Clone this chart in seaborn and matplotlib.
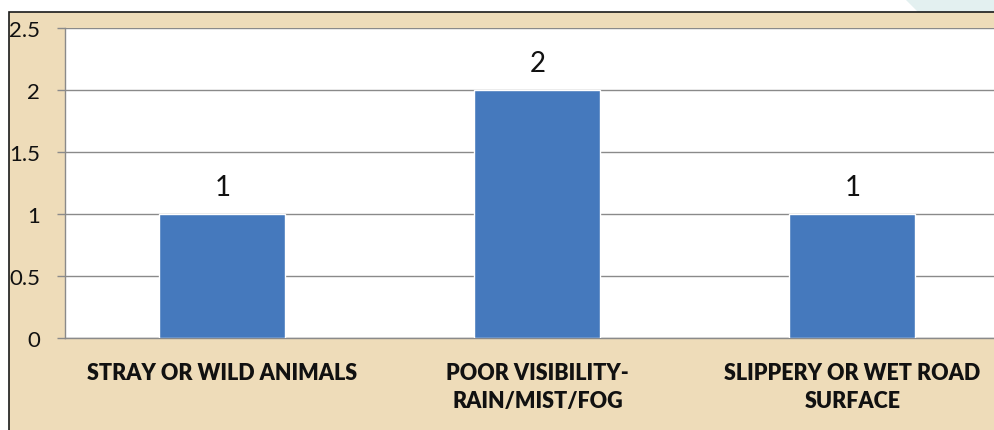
import matplotlib
matplotlib.use("Agg")
import matplotlib.pyplot as plt
import seaborn as sns
import pandas as pd
from matplotlib.patches import Rectangle, Polygon

# chart values
categories = ["STRAY OR WILD ANIMALS", "POOR VISIBILITY-\nRAIN/MIST/FOG", "SLIPPERY OR WET ROAD\nSURFACE"]
counts = [1, 2, 1]
y_ticks = [0, 0.5, 1, 1.5, 2, 2.5]
y_tick_labels = ["0", "0.5", "1", "1.5", "2", "2.5"]

df = pd.DataFrame({"cause": categories, "count": counts})

sns.set_style("white")
plt.rcParams["font.family"] = ["Lato", "DejaVu Sans"]

W, H = 994, 431
fig = plt.figure(figsize=(W / 100, H / 100), dpi=100)
fig.patch.set_facecolor("white")

# slide background: parchment panel with black border, teal corner
fig.add_artist(Polygon([(905 / W, 1), (1, 1), (1, (H - 13) / H), (918 / W, (H - 13) / H)],
                       closed=True, transform=fig.transFigure, facecolor="#e3f0f0",
                       edgecolor="none", zorder=-2))
fig.add_artist(Rectangle((9 / W, -0.01), 1.0, (H - 13) / H + 0.01, transform=fig.transFigure,
                         facecolor="#eedcb9", edgecolor="#1a1a1a", linewidth=1.2, zorder=-1))

# plot area spans beyond the right edge like the original
ax = fig.add_axes([65 / W, 92 / H, 945 / W, 310 / H])
ax.set_zorder(1)
ax.set_facecolor("white")

sns.barplot(data=df, x="cause", y="count", color="#4579bd", width=0.4, saturation=1,
            ax=ax, zorder=3)

ax.set_ylim(0, 2.5)
ax.set_xlim(-0.5, 2.5)
ax.set_yticks(y_ticks)
ax.set_yticklabels(y_tick_labels)
ax.yaxis.grid(True, color="#8a8a8a", linewidth=1.0, zorder=0)
ax.set_axisbelow(True)

for side in ["top", "right"]:
    ax.spines[side].set_visible(False)
for side in ["left", "bottom"]:
    ax.spines[side].set_visible(True)
    ax.spines[side].set_color("#8a8a8a")
    ax.spines[side].set_linewidth(1.0)

ax.tick_params(axis="y", left=True, length=6, width=1, color="#8a8a8a", pad=12,
               labelsize=16, labelcolor="#111111")
ax.tick_params(axis="x", bottom=False, pad=14, labelsize=15.5, labelcolor="#111111")
for lbl in ax.get_xticklabels():
    lbl.set_fontweight("heavy")
    lbl.set_linespacing(1.42)
    lbl.set_verticalalignment("top")

ax.set_xlabel("")
ax.set_ylabel("")

for container in ax.containers:
    ax.bar_label(container, labels=[str(v) for v in counts], padding=10, fontsize=20,
                 color="#111111")

fig.savefig("out.png", dpi=100, facecolor=fig.get_facecolor())
